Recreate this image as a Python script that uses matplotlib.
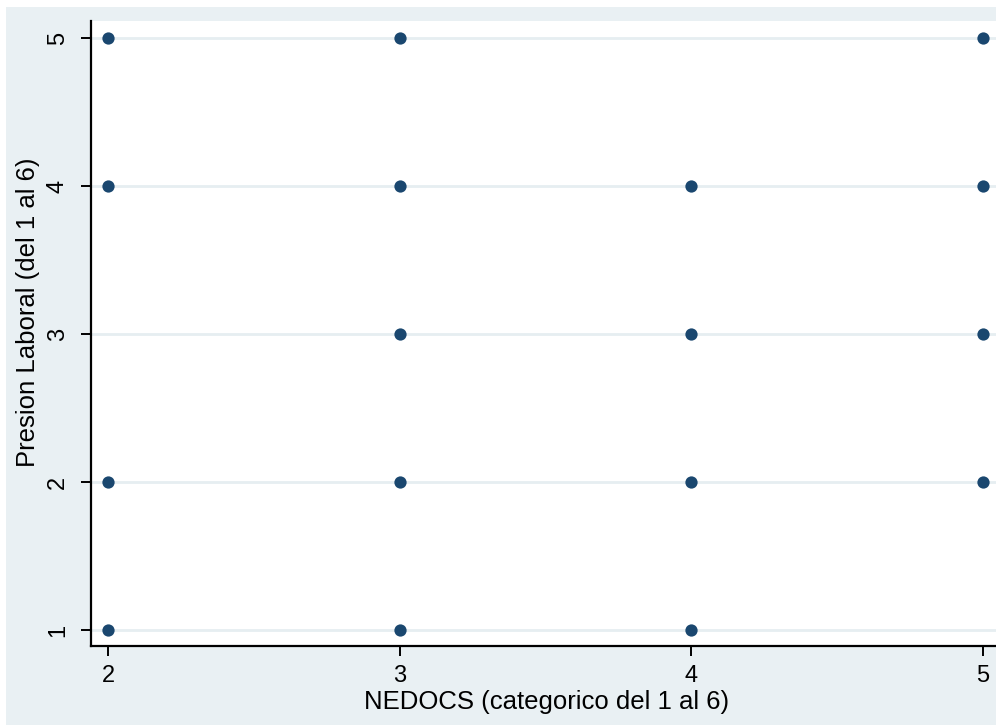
import matplotlib
matplotlib.use("Agg")
import matplotlib.pyplot as plt
from matplotlib.patches import Rectangle

# Data: NEDOCS category vs Presion Laboral
nedocs = [2, 2, 2, 2, 3, 3, 3, 3, 3, 4, 4, 4, 4, 5, 5, 5, 5]
presion = [5, 4, 2, 1, 5, 4, 3, 2, 1, 4, 3, 2, 1, 5, 4, 3, 2]
x_ticks = [2, 3, 4, 5]
y_ticks = [1, 2, 3, 4, 5]
x_label = "NEDOCS (categorico del 1 al 6)"
y_label = "Presion Laboral (del 1 al 6)"

plt.rcParams['font.family'] = ['Liberation Sans', 'DejaVu Sans']

W, H = 996, 725
fig = plt.figure(figsize=(W / 100, H / 100), dpi=100, facecolor="white")
bg = "#E9F0F3"
fig.patches.append(Rectangle((6 / W, 0), 1, (H - 7) / H, transform=fig.transFigure,
                             facecolor=bg, edgecolor="none", zorder=-10))

left, right, top, bottom = 91, 1000, 21, 646
ax = fig.add_axes([left / W, (H - bottom) / H, (right - left) / W, (bottom - top) / H])
ax.set_zorder(5)
ax.set_facecolor("white")

ax.set_xlim(1.9417, 5.0583)
ax.set_ylim(0.892, 5.115)

for y in y_ticks:
    ax.axhline(y, color="#E6EEF1", lw=2, zorder=1)

ax.scatter(nedocs, presion, s=78, color="#1A476F", zorder=3, linewidths=0)

for s in ["top", "right"]:
    ax.spines[s].set_visible(False)
for s in ["left", "bottom"]:
    ax.spines[s].set_linewidth(1.6)
    ax.spines[s].set_color("black")

ax.set_xticks(x_ticks)
ax.set_yticks(y_ticks)
ax.tick_params(axis="both", direction="out", length=7.5, width=1.4, labelsize=17)
ax.tick_params(axis="x", pad=6.5)
ax.tick_params(axis="y", pad=8.5)
for lbl in ax.get_yticklabels():
    lbl.set_rotation(90)
    lbl.set_va("center")

ax.set_xlabel(x_label, fontsize=18.5)
ax.set_ylabel(y_label, fontsize=18.5)
ax.xaxis.label.set_va("baseline")
ax.xaxis.set_label_coords((547 - left) / (right - left), -(709 - bottom) / (bottom - top))
ax.yaxis.set_label_coords(-(91 - 40) / (right - left), (bottom - 312) / (bottom - top))

fig.savefig("out.png", dpi=100, facecolor="white")
